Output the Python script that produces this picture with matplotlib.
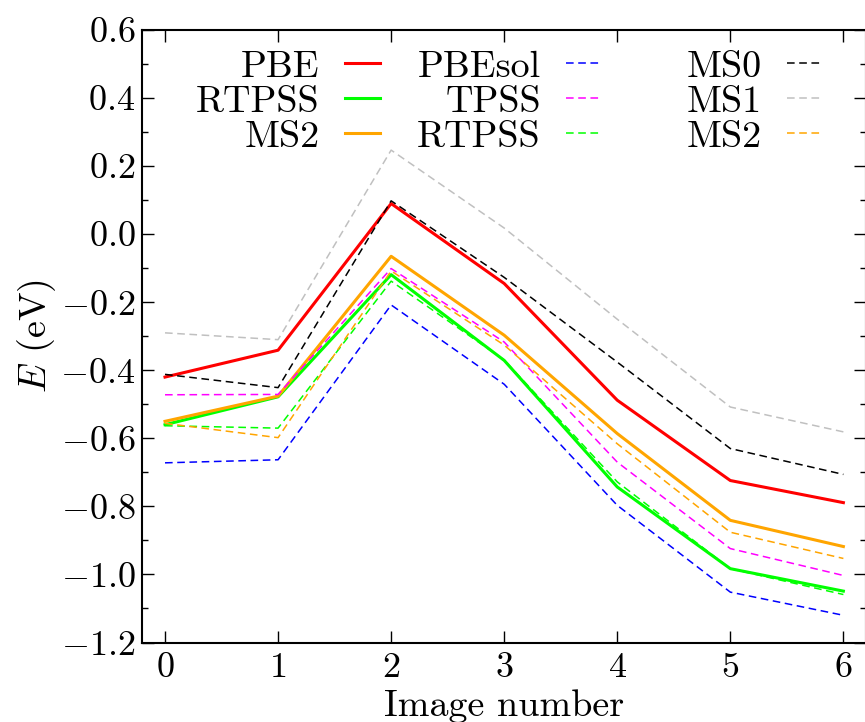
import matplotlib
matplotlib.use("Agg")
import matplotlib.pyplot as plt
from matplotlib.ticker import MultipleLocator

plt.rcParams['font.family'] = 'serif'
plt.rcParams['font.serif'] = ['cmr10']
plt.rcParams['mathtext.fontset'] = 'cm'
plt.rcParams['axes.formatter.use_mathtext'] = True
plt.rcParams['axes.unicode_minus'] = True

images = [0, 1, 2, 3, 4, 5, 6]

# solid series
pbe = [-0.420, -0.341, 0.090, -0.145, -0.488, -0.724, -0.789]
rtpss = [-0.560, -0.478, -0.119, -0.371, -0.743, -0.983, -1.049]
ms2 = [-0.550, -0.476, -0.065, -0.297, -0.586, -0.841, -0.918]

# dashed series
pbesol_d = [-0.672, -0.663, -0.208, -0.441, -0.797, -1.052, -1.120]
tpss_d = [-0.472, -0.471, -0.101, -0.317, -0.670, -0.924, -1.003]
rtpss_d = [-0.563, -0.570, -0.138, -0.370, -0.728, -0.983, -1.059]
ms0_d = [-0.412, -0.451, 0.098, -0.127, -0.376, -0.630, -0.706]
ms1_d = [-0.290, -0.310, 0.247, 0.018, -0.250, -0.508, -0.581]
ms2_d = [-0.556, -0.598, -0.108, -0.326, -0.616, -0.876, -0.953]

labels_col1 = ["PBE", "RTPSS", "MS2"]
labels_col2 = ["PBEsol", "TPSS", "RTPSS"]
labels_col3 = ["MS0", "MS1", "MS2"]

fig = plt.figure(figsize=(8.65, 7.22), dpi=100)
W, H = 865.0, 722.0
ax = fig.add_axes([142.4 / W, (H - 642.5) / H, (866.0 - 142.4) / W, (642.5 - 30.0) / H])

SLW = 2.2
DLW = 1.1
dash = (0, (5, 3))

l_pbe, = ax.plot(images, pbe, color='#ff0000', lw=SLW)
l_rt, = ax.plot(images, rtpss, color='#00ff00', lw=SLW)
l_ms2, = ax.plot(images, ms2, color='#ffa500', lw=SLW)
l_pbesol, = ax.plot(images, pbesol_d, color='#0000ff', lw=DLW, ls=dash)
l_tpss, = ax.plot(images, tpss_d, color='#ff00ff', lw=DLW, ls=dash)
l_rtd, = ax.plot(images, rtpss_d, color='#00ff00', lw=DLW, ls=dash)
l_ms0, = ax.plot(images, ms0_d, color='#000000', lw=DLW, ls=dash)
l_ms1, = ax.plot(images, ms1_d, color='#c0c0c0', lw=DLW, ls=dash)
l_ms2d, = ax.plot(images, ms2_d, color='#ffa500', lw=DLW, ls=dash)

ax.set_xlim(-0.2, 6.2)
ax.set_ylim(-1.2, 0.6)
ax.xaxis.set_major_locator(MultipleLocator(1))
ax.yaxis.set_major_locator(MultipleLocator(0.2))
ax.yaxis.set_minor_locator(MultipleLocator(0.1))
ax.tick_params(which='both', direction='in', top=True, right=True, labelsize=26, width=1.0)
ax.tick_params(which='major', length=8.5)
ax.tick_params(which='minor', length=4.5)
ax.tick_params(axis='x', which='major', pad=7)
ax.tick_params(axis='y', which='major', pad=5)
for s in ax.spines.values():
    s.set_linewidth(1.5)

FS = 27.4
ax.set_xlabel("Image number", fontsize=FS, labelpad=4)
ax.set_ylabel(r"$E$ (eV)", fontsize=FS, labelpad=2)

common = dict(frameon=False, fontsize=FS, markerfirst=False, loc='upper right',
              borderpad=0, borderaxespad=0, handlelength=0.92, handletextpad=0.66,
              labelspacing=0.035, bbox_transform=fig.transFigure)
top = 1 - 50.0 / H
leg1 = fig.legend([l_pbe, l_rt, l_ms2], labels_col1, bbox_to_anchor=(380.0 / W, top), **common)
leg2 = fig.legend([l_pbesol, l_tpss, l_rtd], labels_col2, bbox_to_anchor=(601.0 / W, top), **common)
leg3 = fig.legend([l_ms0, l_ms1, l_ms2d], labels_col3, bbox_to_anchor=(822.0 / W, top), **common)

fig.savefig("out.png", dpi=100)
